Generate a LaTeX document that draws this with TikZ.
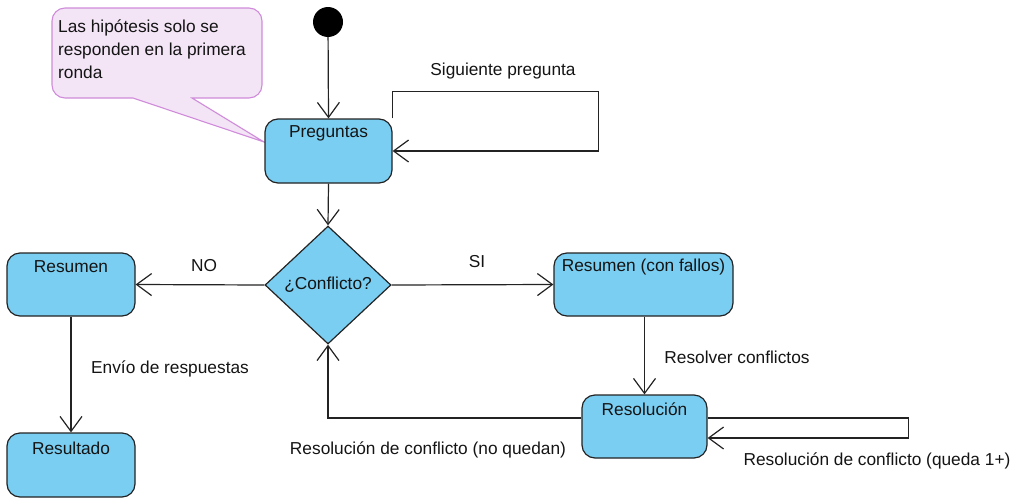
\documentclass[tikz,border=0pt]{standalone}
\usepackage{fontspec}
\setmainfont{Liberation Sans}
\usetikzlibrary{arrows.meta,shapes.geometric,calc}
\definecolor{boxfill}{RGB}{122,206,242}
\definecolor{linec}{RGB}{35,35,35}
\definecolor{notefill}{RGB}{243,228,246}
\definecolor{notedraw}{RGB}{208,140,218}
\definecolor{txt}{RGB}{20,20,20}
\tikzset{
  state/.style={draw=linec, fill=boxfill, line width=1.2pt, rounded corners=13pt, inner sep=0pt},
  decision/.style={draw=linec, fill=boxfill, line width=1.2pt, diamond, inner sep=0pt, minimum width=126pt, minimum height=118pt, font=\fontsize{17.3}{20}\selectfont, text=txt},
  statetext/.style={font=\fontsize{17.3}{20}\selectfont, text=txt, inner sep=0pt},
  lbl/.style={font=\fontsize{17.3}{20}\selectfont, text=txt, inner sep=0pt},
  flow/.style={draw=linec, line width=1.2pt, -{Straight Barb[length=15pt,width=22pt,line width=1.2pt]}},
  plain/.style={draw=linec, line width=1.2pt}
}
\begin{document}
\begin{tikzpicture}[x=1pt,y=-1pt]
\useasboundingbox (0,0) rectangle (1017,498);
% note
\draw[fill=notefill, draw=notedraw, line width=1.1pt]
  (264,142) -- (133,98) [rounded corners=13pt] -- (52,98) -- (52,8) -- (262,8) -- (262,98) [sharp corners] -- (192,98) -- cycle;
\node[lbl, anchor=north west, align=left, font=\fontsize{17.3}{23}\selectfont] (notetext) at (58,20) {Las hipótesis solo se\\responden en la primera\\ronda};
% start
\node[circle, fill=black, minimum size=30pt, inner sep=0pt] (start) at (328,22) {};
% states
\node[state, minimum width=127pt, minimum height=64pt] (p) at (328.5,151) {};
\node[statetext] (pt) at (328.5,133) {Preguntas};
\node[decision] (d) at (328,285) {¿Conflicto?};
\node[state, minimum width=128pt, minimum height=63pt] (rs) at (71,284.5) {};
\node[statetext] (rst) at (71,267) {Resumen};
\node[state, minimum width=128pt, minimum height=64pt] (res) at (71,465) {};
\node[statetext] (rest) at (71,448) {Resultado};
\node[state, minimum width=179pt, minimum height=63pt] (rf) at (643.5,284.5) {};
\node[statetext] (rft) at (643.5,267) {Resumen (con fallos)};
\node[state, minimum width=125pt, minimum height=63pt] (r) at (644.5,426.5) {};
\node[statetext] (rt) at (644.5,409) {Resolución};
% connectors
\draw[flow] (start) -- (p.north);
\draw[flow] (p.south) -- (d.north);
\draw[flow] (p.north east) -- ++(0,-27) -- ++(206,0) |- (p.east);
\draw[flow] (d.west) -- (rs.east);
\draw[flow] (d.east) -- (rf.west);
\draw[flow] (rs.south) -- (res.north);
\draw[flow] (rf.south -| r.north) -- (r.north);
\draw[flow] ([yshift=8.5pt]r.east) -- ++(201,0) |- ([yshift=-11.5pt]r.east);
\draw[flow] ([yshift=8.5pt]r.west) -| (d.south);
% labels
\node[lbl] (l1) at (503,71) {Siguiente pregunta};
\node[lbl] (l2) at (204,266) {NO};
\node[lbl] (l3) at (477,262) {SI};
\node[lbl] (l4) at (170,369) {Envío de respuestas};
\node[lbl] (l5) at (737,357) {Resolver conflictos};
\node[lbl] (l6) at (428,450) {Resolución de conflicto (no quedan)};
\node[lbl] (l7) at (877,461) {Resolución de conflicto (queda 1+)};
\end{tikzpicture}
\end{document}
